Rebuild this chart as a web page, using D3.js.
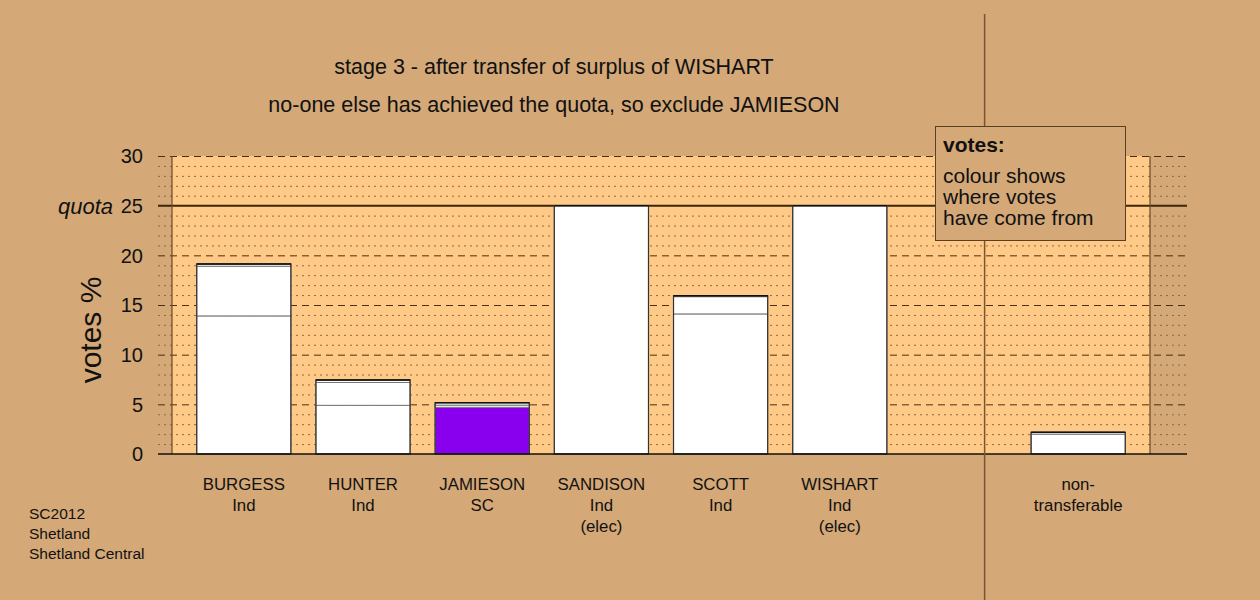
<!DOCTYPE html>
<html><head><meta charset="utf-8">
<script src="https://cdn.jsdelivr.net/npm/d3@7"></script>
<style>body{margin:0;background:#D4A877;} svg{display:block;font-family:"Liberation Sans",Arial,sans-serif;}</style>
</head><body>
<script>
const candidates = ["BURGESS","HUNTER","JAMIESON","SANDISON","SCOTT","WISHART","","non-transferable"];
const labelLines = [["BURGESS","Ind"],["HUNTER","Ind"],["JAMIESON","SC"],["SANDISON","Ind","(elec)"],["SCOTT","Ind"],["WISHART","Ind","(elec)"],[],["non-","transferable"]];
// vote segments (% of valid vote), by stage of origin
const firstPrefs   = [13.9, 4.9, 4.7, 25, 14.1, 25, 0, 0];
const fromSandison = [5.0, 2.3, 0.22, 0, 1.74, 0, 0, 2.0];
const fromWishart  = [0.23, 0.26, 0.25, 0, 0.1, 0, 0, 0.18];
const firstColours = ["#ffffff","#ffffff","#8800ee","#ffffff","#ffffff","#ffffff","#ffffff","#ffffff"];
const yTicks = [0,5,10,15,20,25,30];
const quota = 25;

const W=1260,H=600;
const svg=d3.select("body").append("svg").attr("width",W).attr("height",H);
svg.append("rect").attr("width",W).attr("height",H).attr("fill","#D4A877");

const x=d3.scaleBand().domain(candidates).range([172,1150]).paddingInner(0.21).paddingOuter(0.2075);
const y=d3.scaleLinear().domain([0,30]).range([454,156]);
const gx0=158,gx1=1187;

svg.append("rect").attr("x",172).attr("y",y(30)).attr("width",1150-172).attr("height",y(0)-y(30)).attr("fill","#FFCA88");

// minor grid
const minor=d3.range(1,30).filter(v=>v%5!==0);
svg.selectAll("line.minor").data(minor).join("line")
  .attr("x1",gx0).attr("x2",gx1).attr("y1",d=>y(d)+0.5).attr("y2",d=>y(d)+0.5)
  .attr("stroke","#8a6a45").attr("stroke-width",1).attr("stroke-dasharray","2,4");
// major grid
svg.selectAll("line.major").data(yTicks.filter(v=>v!==0&&v!==quota)).join("line")
  .attr("x1",gx0).attr("x2",gx1).attr("y1",d=>y(d)+0.5).attr("y2",d=>y(d)+0.5)
  .attr("stroke","#4a3010").attr("stroke-width",1).attr("stroke-dasharray","7,5");
// quota
svg.append("line").attr("x1",gx0).attr("x2",gx1).attr("y1",y(quota)).attr("y2",y(quota))
  .attr("stroke","#3a2608").attr("stroke-width",2);
// plot sides
[172,1150].forEach(px=>svg.append("line").attr("x1",px).attr("x2",px).attr("y1",y(30)).attr("y2",y(0))
  .attr("stroke","#6a4a25").attr("stroke-width",1.2));

// bars
const bw=x.bandwidth();
candidates.forEach((c,i)=>{
  if(!c) return;
  const segs=[[firstPrefs[i],firstColours[i]],[fromSandison[i],"#ffffff"],[fromWishart[i],"#ffffff"]];
  let base=0;
  const g=svg.append("g");
  segs.forEach(([v,col])=>{
    if(v<=0) return;
    g.append("rect").attr("x",x(c)).attr("y",y(base+v)).attr("width",bw).attr("height",y(base)-y(base+v))
      .attr("fill",col).attr("stroke","#777").attr("stroke-width",1);
    base+=v;
  });
  g.append("rect").attr("x",x(c)).attr("y",y(base)).attr("width",bw).attr("height",y(0)-y(base))
    .attr("fill","none").attr("stroke","#333").attr("stroke-width",1.2);
  g.append("line").attr("x1",x(c)).attr("x2",x(c)+bw).attr("y1",y(base)).attr("y2",y(base)).attr("stroke","#111").attr("stroke-width",1.5);
});

// baseline
svg.append("line").attr("x1",gx0).attr("x2",gx1).attr("y1",y(0)).attr("y2",y(0)).attr("stroke","#111").attr("stroke-width",1.5);

// y tick labels
svg.selectAll("text.yt").data(yTicks).join("text")
  .attr("x",143).attr("y",d=>y(d)).attr("dy","0.36em").attr("text-anchor","end")
  .attr("font-size",20).attr("fill","#111").text(d=>d);
svg.append("text").attr("x",113).attr("y",y(quota)).attr("dy","0.36em").attr("text-anchor","end")
  .attr("font-size",22).attr("font-style","italic").attr("fill","#111").text("quota");
svg.append("text").attr("transform","translate(101,330) rotate(-90)").attr("text-anchor","middle")
  .attr("font-size",30).attr("fill","#111").text("votes %");

// x labels
candidates.forEach((c,i)=>{
  labelLines[i].forEach((ln,j)=>{
    svg.append("text").attr("x",x(c)+bw/2).attr("y",490+j*21).attr("text-anchor","middle")
      .attr("font-size",16.8).attr("fill","#111").text(ln);
  });
});

// divider
const divX=x("")+x.step()*0.61;
svg.append("line").attr("x1",divX).attr("x2",divX).attr("y1",14).attr("y2",H).attr("stroke","#7a5530").attr("stroke-width",1.5);

// titles
svg.append("text").attr("x",554).attr("y",74).attr("text-anchor","middle").attr("font-size",21.5).attr("fill","#111")
  .text("stage 3 - after transfer of surplus of WISHART");
svg.append("text").attr("x",554).attr("y",112).attr("text-anchor","middle").attr("font-size",21.5).attr("fill","#111")
  .text("no-one else has achieved the quota, so exclude JAMIESON");

// legend
svg.append("rect").attr("x",935.5).attr("y",126.5).attr("width",190).attr("height",114)
  .attr("fill","#D4A877").attr("stroke","#5a4020").attr("stroke-width",1);
svg.append("text").attr("x",943).attr("y",152).attr("font-size",21).attr("font-weight","bold").attr("fill","#111").text("votes:");
["colour shows","where votes","have come from"].forEach((t,j)=>
  svg.append("text").attr("x",943).attr("y",183+j*21).attr("font-size",21).attr("fill","#111").text(t));

// source
["SC2012","Shetland","Shetland Central"].forEach((t,j)=>
  svg.append("text").attr("x",29).attr("y",519+j*20).attr("font-size",15.5).attr("fill","#111").text(t));
</script>
</body></html>
